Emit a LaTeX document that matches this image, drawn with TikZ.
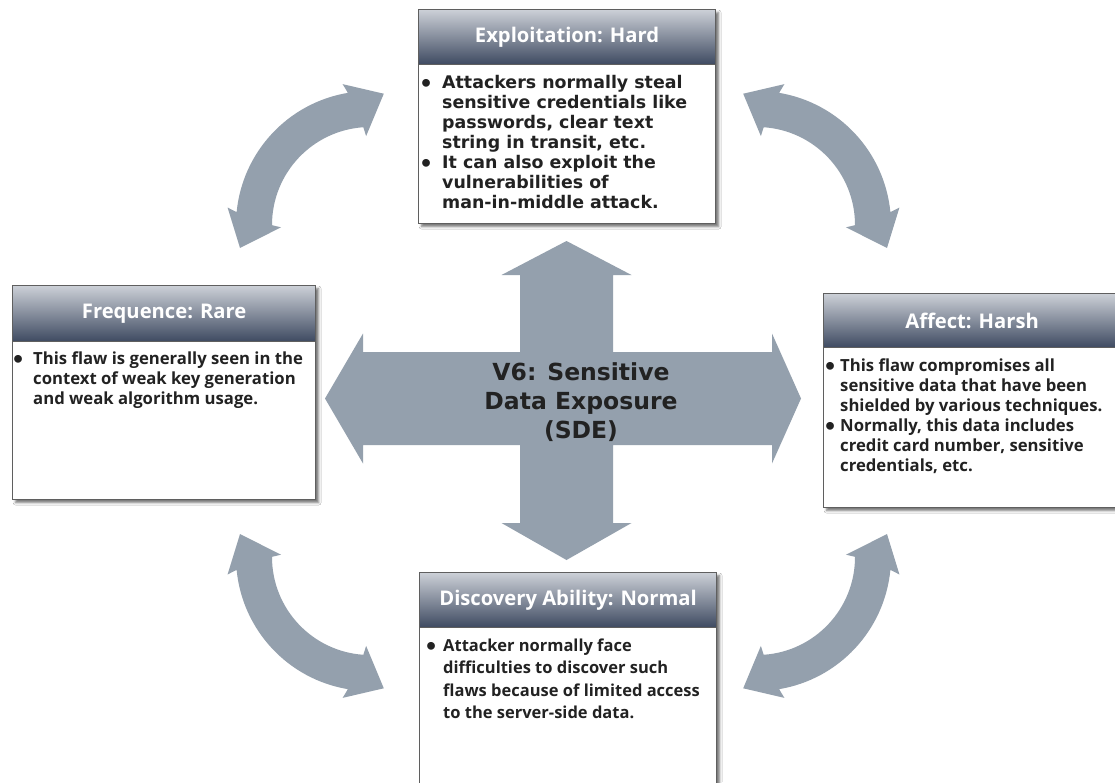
\documentclass[tikz,border=0pt]{standalone}
\usepackage{fontspec}
\setmainfont{Open Sans}
\newfontfamily\verdfont{DejaVu Sans}
\usetikzlibrary{shadows.blur}

\definecolor{arrowgrey}{RGB}{148,160,173}
\definecolor{headtop}{RGB}{204,208,215}
\definecolor{headmid}{RGB}{140,149,166}
\definecolor{headbot}{RGB}{62,74,97}
\definecolor{inktext}{RGB}{34,34,34}
\definecolor{framegrey}{RGB}{95,95,95}

% round list marker, a little larger than the text's own bullet
\newcommand\dotmark{\raisebox{-3.4pt}{\fontsize{22}{20}\verdfont\selectfont\textbullet}}

\tikzset{
  boxframe/.style={draw=framegrey, line width=1.2pt, fill=white, anchor=north west,
    inner sep=0pt,
    blur shadow={shadow xshift=3pt, shadow yshift=-3pt, shadow blur radius=2.5pt,
                 shadow opacity=55}},
  boxhead/.style={draw=framegrey, line width=1.2pt, top color=headtop,
    middle color=headmid, bottom color=headbot, anchor=north west, inner sep=0pt,
    text=white, font=\bfseries\fontsize{20.2}{22}\selectfont},
  listtext/.style={anchor=base west, inner sep=0pt, text=inktext, align=left},
  coretext/.style={text=inktext, align=center, inner sep=0pt,
    font=\verdfont\bfseries\fontsize{23.5}{29}\selectfont},
}

\begin{document}
\begin{tikzpicture}[x=1pt,y=-1pt]
\useasboundingbox (0,0) rectangle (1115,782);
\clip (0,0) rectangle (1115,782);
\fill[white] (0,0) rectangle (1115,782);

% four-headed central arrow
\fill[arrowgrey] (566.5,241) -- (631.5,275) -- (613,275) -- (613,352) -- (772,352)
  -- (772,333.5) -- (801,398.5) -- (772,463.5) -- (772,445) -- (613,445)
  -- (613,523) -- (631.5,523) -- (566.5,560) -- (501.5,523) -- (520,523)
  -- (520,445) -- (363,445) -- (363,463.5) -- (325,398.5) -- (363,333.5)
  -- (363,352) -- (520,352) -- (520,275) -- (501.5,275) -- cycle;
\node[coretext] (core) at (581,402) {V6: Sensitive\\Data Exposure\\(SDE)};

% curved double arrows between neighbouring boxes
\foreach \cx/\cy/\ph in {370/225/223, 757/225/317, 370/557/137, 757/557/43}{
  \pgfmathsetmacro\atipA{\ph+53}
  \pgfmathsetmacro\abasA{\ph+36}
  \pgfmathsetmacro\aoutA{\ph+37.5}
  \pgfmathsetmacro\aoutB{\ph-37.5}
  \pgfmathsetmacro\abasB{\ph-36}
  \pgfmathsetmacro\atipB{\ph-53}
  \pgfmathsetmacro\ainnB{\ph-44.5}
  \pgfmathsetmacro\ashaB{\ph-43.1}
  \pgfmathsetmacro\ashaA{\ph+43.1}
  \pgfmathsetmacro\ainnA{\ph+44.5}
  \fill[arrowgrey, shift={(\cx,\cy)}] (\atipA:132) -- (\abasA:143.5) -- (\aoutA:134)
    arc[start angle=\aoutA, end angle=\aoutB, radius=134]
    -- (\abasB:143.5) -- (\atipB:132) -- (\ainnB:89) -- (\ashaB:98)
    arc[start angle=\ashaB, end angle=\ashaA, radius=98]
    -- (\ainnA:89) -- cycle;
}

% Exploitation box
\node[boxframe, minimum width=297pt, minimum height=214pt] (topbox) at (418,9) {};
\node[boxhead, minimum width=297pt, minimum height=55pt] (tophead) at (418,9) {Exploitation: Hard};
\node[listtext, font=\verdfont\bfseries\fontsize{17.4}{20}\selectfont] (toptext) at (419,88) {%
  \begin{tabular}[t]{@{}p{23pt}@{}l@{}}
  \dotmark & Attackers normally steal\\
   & sensitive credentials like\\
   & passwords, clear text\\
   & string in transit, etc.\\
  \dotmark & It can also exploit the\\
   & vulnerabilities of\\
   & man-in-middle attack.
  \end{tabular}};

% Frequence box
\node[boxframe, minimum width=303pt, minimum height=214pt] (leftbox) at (12,285) {};
\node[boxhead, minimum width=303pt, minimum height=56pt] (lefthead) at (12,285) {Frequence: Rare};
\node[listtext, font=\bfseries\fontsize{16.7}{20}\selectfont] (lefttext) at (11,364) {%
  \begin{tabular}[t]{@{}p{22pt}@{}l@{}}
  \dotmark & This flaw is generally seen in the\\
   & context of weak key generation\\
   & and weak algorithm usage.
  \end{tabular}};

% Affect box
\node[boxframe, minimum width=297pt, minimum height=214pt] (rightbox) at (823,293) {};
\node[boxhead, minimum width=297pt, minimum height=54pt] (righthead) at (823,293) {Affect: Harsh};
\node[listtext, font=\bfseries\fontsize{16.7}{20}\selectfont] (righttext) at (823,371) {%
  \begin{tabular}[t]{@{}p{17pt}@{}l@{}}
  \dotmark & This flaw compromises all\\
   & sensitive data that have been\\
   & shielded by various techniques.\\
  \dotmark & Normally, this data includes\\
   & credit card number, sensitive\\
   & credentials, etc.
  \end{tabular}};

% Discovery box
\node[boxframe, minimum width=297pt, minimum height=240pt] (botbox) at (419,572) {};
\node[boxhead, minimum width=297pt, minimum height=55pt] (bothead) at (419,572) {Discovery Ability: Normal};
\node[listtext, font=\bfseries\fontsize{16.5}{22.5}\selectfont] (bottext) at (424,651) {%
  \begin{tabular}[t]{@{}p{19pt}@{}l@{}}
  \dotmark & Attacker normally face\\
   & difficulties to discover such\\
   & flaws because of limited access\\
   & to the server-side data.
  \end{tabular}};
\end{tikzpicture}
\end{document}
